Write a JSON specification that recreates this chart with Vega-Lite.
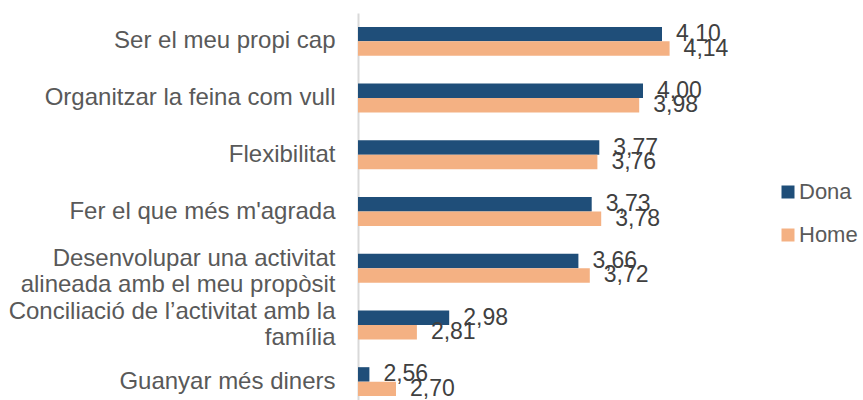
{
  "$schema": "https://vega.github.io/schema/vega-lite/v6.json",
  "autosize": {"type": "none"},
  "padding": {"left": 358, "top": 13, "right": 125, "bottom": 0},
  "width": 380,
  "height": 397,
  "background": "white",
  "data": {
    "values": [
      {"cat": "Ser el meu propi cap", "serie": "Dona", "v": 4.10},
      {"cat": "Ser el meu propi cap", "serie": "Home", "v": 4.14},
      {"cat": "Organitzar la feina com vull", "serie": "Dona", "v": 4.00},
      {"cat": "Organitzar la feina com vull", "serie": "Home", "v": 3.98},
      {"cat": "Flexibilitat", "serie": "Dona", "v": 3.77},
      {"cat": "Flexibilitat", "serie": "Home", "v": 3.76},
      {"cat": "Fer el que més m'agrada", "serie": "Dona", "v": 3.73},
      {"cat": "Fer el que més m'agrada", "serie": "Home", "v": 3.78},
      {"cat": "Desenvolupar una activitat|alineada amb el meu propòsit", "serie": "Dona", "v": 3.66},
      {"cat": "Desenvolupar una activitat|alineada amb el meu propòsit", "serie": "Home", "v": 3.72},
      {"cat": "Conciliació de l’activitat amb la|família", "serie": "Dona", "v": 2.98},
      {"cat": "Conciliació de l’activitat amb la|família", "serie": "Home", "v": 2.81},
      {"cat": "Guanyar més diners", "serie": "Dona", "v": 2.56},
      {"cat": "Guanyar més diners", "serie": "Home", "v": 2.70}
    ]
  },
  "encoding": {
    "y": {
      "field": "cat",
      "type": "nominal",
      "sort": null,
      "scale": {"paddingInner": 0.49, "paddingOuter": 0.245},
      "axis": {
        "title": null,
        "ticks": false,
        "labelPadding": 23,
        "labelFont": "Liberation Sans",
        "labelFontSize": 24,
        "labelColor": "#595959",
        "labelLineHeight": 26,
        "labelLimit": 400,
        "labelOffset": {"condition": [
          {"test": "indexof(datum.label, 'Desenvolupar') >= 0", "value": -9},
          {"test": "indexof(datum.label, '|') >= 0", "value": -13}
        ], "value": 0},
        "labelExpr": "split(datum.label, '|')",
        "domainColor": "#D9D9D9",
        "domainWidth": 2,
        "grid": false
      }
    },
    "yOffset": {"field": "serie", "type": "nominal", "sort": ["Dona", "Home"]},
    "x": {
      "field": "v",
      "type": "quantitative",
      "scale": {"domain": [2.5, 4.5], "zero": false, "nice": false},
      "axis": null
    }
  },
  "layer": [
    {
      "mark": {"type": "bar"},
      "encoding": {
        "x2": {"datum": 2.5},
        "color": {
          "field": "serie",
          "type": "nominal",
          "scale": {"domain": ["Dona", "Home"], "range": ["#1F4E79", "#F4B183"]},
          "legend": {
            "title": null,
            "orient": "none",
            "legendX": 419,
            "legendY": 168,
            "padding": 0,
            "symbolType": "square",
            "symbolSize": 169,
            "symbolStrokeWidth": 0,
            "labelFont": "Liberation Sans",
            "labelFontSize": 22,
            "labelColor": "#595959",
            "labelOffset": 0,
            "rowPadding": 21
          }
        }
      }
    },
    {
      "mark": {
        "type": "text",
        "align": "left",
        "baseline": "middle",
        "dx": 14,
        "font": "Liberation Sans",
        "fontSize": 23,
        "color": "#404040"
      },
      "encoding": {
        "text": {"field": "v", "type": "quantitative", "format": ".2f"}
      }
    }
  ],
  "config": {
    "view": {"stroke": null},
    "locale": {
      "number": {"decimal": ",", "thousands": ".", "grouping": [3], "currency": ["", " €"]}
    }
  }
}
